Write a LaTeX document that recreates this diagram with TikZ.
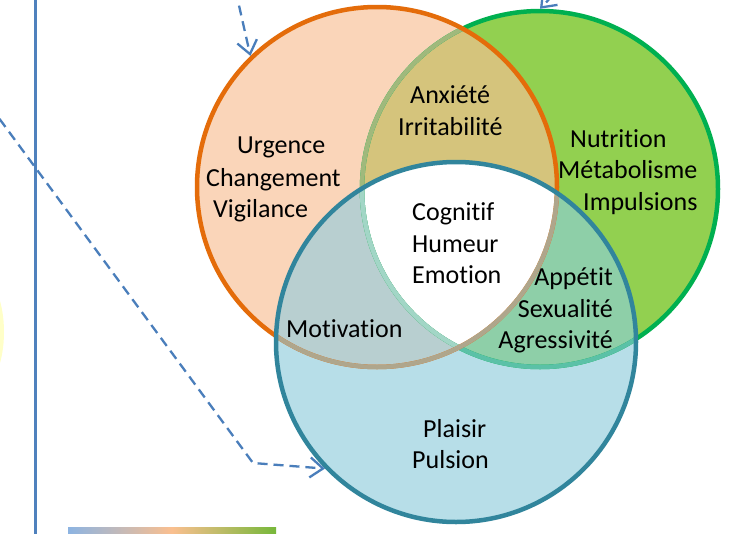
\documentclass[tikz,border=0pt]{standalone}
\usepackage{fontspec}
\newfontfamily\vennfont[Ligatures=NoCommon]{Carlito}
\usetikzlibrary{arrows.meta}
\definecolor{cGf}{HTML}{92D050}
\definecolor{cOf}{HTML}{FAD5B9}
\definecolor{cBf}{HTML}{B7DEE8}
\definecolor{cOGf}{HTML}{D5C47C}
\definecolor{cOBf}{HTML}{B8CFD0}
\definecolor{cGBf}{HTML}{8ECFA8}
\definecolor{cGs}{HTML}{00B050}
\definecolor{cOs}{HTML}{E46C0A}
\definecolor{cBs}{HTML}{31859C}
\definecolor{cGsO}{HTML}{A0B97C}
\definecolor{cGsB}{HTML}{5BC1A7}
\definecolor{cGsOB}{HTML}{A2D6C6}
\definecolor{cOsB}{HTML}{AFA68C}
\definecolor{dashblue}{HTML}{4A7EBB}
\definecolor{rule}{HTML}{4F81BD}
\definecolor{glow}{HTML}{FFFFC8}
\definecolor{barA}{HTML}{8DB4E2}
\definecolor{barB}{HTML}{FABF8F}
\definecolor{barC}{HTML}{77B83A}
\def\Op{(377,187) circle[radius=180pt]}
\def\Gp{(540,189) circle[radius=178pt]}
\def\Bp{(456,342) circle[radius=180pt]}
\begin{document}
\begin{tikzpicture}[x=1pt,y=-1pt,
  ring/.style={line width=4.5pt},
  lbl/.style={inner sep=0pt, font=\vennfont\fontsize{26}{32}\selectfont, text=black},
  anchorcircle/.style={circle, inner sep=0pt, outer sep=2.25pt},
  pointer/.style={draw=dashblue, line width=2.3pt, dash pattern=on 10pt off 6pt,
     -{Straight Barb[length=13pt,width=20pt,line width=2.3pt]}}]
\useasboundingbox (0,0) rectangle (731,533);
\clip (0,0) rectangle (731,533);
\fill[white] (0,0) rectangle (731,533);
% yellow glow at left edge
\fill[glow] (-20,332) ellipse[x radius=24pt, y radius=56pt];
% vertical rule
\coordinate (vt) at (35.5,-5);
\coordinate (vb) at (35.5,540);
\draw[rule, line width=2.3pt] (vt) -- (vb);
% gradient bar
\shade[left color=barA, right color=barC, middle color=barB] (68,527) rectangle (276,534);
% fills
\fill[cGf] \Gp;
\fill[cOf] \Op;
\begin{scope}\clip \Gp; \fill[cOGf] \Op;\end{scope}
\fill[cBf] \Bp;
\begin{scope}\clip \Op; \fill[cOBf] \Bp;\end{scope}
\begin{scope}\clip \Gp; \fill[cGBf] \Bp;\end{scope}
\begin{scope}\clip \Gp; \clip \Op; \fill[white] \Bp;\end{scope}
% strokes
\draw[ring, cGs] \Gp;
\begin{scope}\clip \Op; \draw[ring, cGsO] \Gp;\end{scope}
\begin{scope}\clip \Bp; \draw[ring, cGsB] \Gp;\end{scope}
\begin{scope}\clip \Op; \clip \Bp; \draw[ring, cGsOB] \Gp;\end{scope}
\draw[ring, cOs] \Op;
\begin{scope}\clip \Bp; \draw[ring, cOsB] \Op;\end{scope}
\draw[ring, cBs] \Bp;
% named circle nodes (for connectors)
\node[anchorcircle, minimum size=360pt] (O) at (377,187) {};
\node[anchorcircle, minimum size=356pt] (G) at (540,189) {};
\node[anchorcircle, minimum size=360pt] (B) at (456,342) {};
% labels
\node[lbl, anchor=base west] (t1) at (237,153) {Urgence};
\node[lbl, anchor=base west] (t2) at (206,186) {Changement};
\node[lbl, anchor=base west] (t3) at (213,217) {Vigilance};
\node[lbl, anchor=base west] (t4) at (410,103) {Anxiété};
\node[lbl, anchor=base west] (t5) at (398,135) {Irritabilité};
\node[lbl, anchor=base west] (t6) at (570,147) {Nutrition};
\node[lbl, anchor=base west] (t7) at (558,178) {Métabolisme};
\node[lbl, anchor=base west] (t8) at (583,210) {Impulsions};
\node[lbl, anchor=base west] (t9) at (412,220) {Cognitif};
\node[lbl, anchor=base west] (t10) at (412,252) {Humeur};
\node[lbl, anchor=base west] (t11) at (412,283) {Emotion};
\node[lbl, anchor=base east] (t12) at (613,285) {Appétit};
\node[lbl, anchor=base east] (t13) at (613,317) {Sexualité};
\node[lbl, anchor=base east] (t14) at (613,348) {Agressivité};
\node[lbl, anchor=base west] (t15) at (286,337) {Motivation};
\node[lbl, anchor=base west] (t16) at (423,437) {Plaisir};
\node[lbl, anchor=base west] (t17) at (412,468) {Pulsion};
% dashed connectors
\coordinate (s1) at (-10,106);
\coordinate (k1) at (253,463);
\coordinate (s2) at (235.5,-10);
\coordinate (s3) at (575,-28);
\draw[pointer] (s1) -- (k1) -- (B.224);
\draw[pointer] (s2) -- (O.134.5);
\draw[pointer] (s3) -- (G.90);
\end{tikzpicture}
\end{document}
